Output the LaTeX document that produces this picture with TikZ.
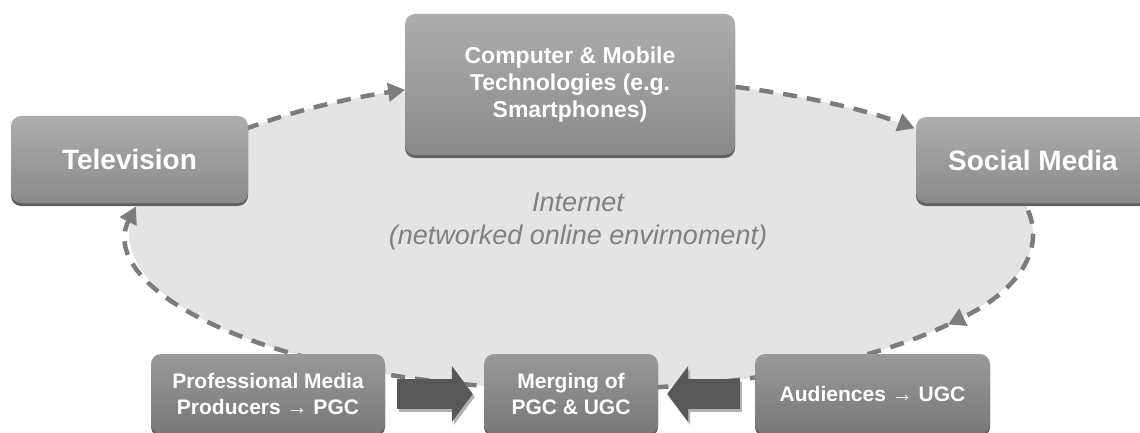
\documentclass[tikz,border=0pt]{standalone}
\usepackage{fontspec}
\setmainfont{Liberation Sans}
\usetikzlibrary{arrows.meta,calc,shadows,shapes.geometric}

\definecolor{loopgray}{RGB}{124,124,124}
\definecolor{cloudgray}{RGB}{228,228,228}
\definecolor{blockgray}{RGB}{88,88,88}

\tikzset{
  mediabox/.style={rectangle, rounded corners=10pt, draw=none, inner sep=0pt,
    top color=black!32, bottom color=black!46, text=white, align=center,
    general shadow={fill=black!62, shadow yshift=-3pt}},
  lowbox/.style={mediabox, top color=black!40, bottom color=black!53,
    font=\bfseries\fontsize{21}{26}\selectfont,
    minimum height=80pt},
  loopline/.style={draw=loopgray, line width=4.5pt, dash pattern=on 14pt off 10pt},
  looparrow/.style={loopline, -{Triangle[length=17pt,width=18pt]}},
  fatarrow/.style={draw=blockgray, line width=30pt, -{Triangle[length=21pt,width=55pt]}},
}

\begin{document}
\begin{tikzpicture}[x=1pt,y=1pt]
  \clip (0,0) rectangle (1140,432);

  % the online environment
  \node[ellipse, fill=cloudgray, minimum width=904pt, minimum height=312pt, inner sep=0pt]
    (net) at (581,198.5) {};
  \node[text=black!50, align=center, font=\itshape\fontsize{27}{33}\selectfont]
    (nettext) at (578,210) {Internet\\(networked online envirnoment)};

  \coordinate (tvout)   at ($(net.center)+(138:452pt and 156pt)$);
  \coordinate (compout) at ($(net.center)+(70:452pt and 156pt)$);
  \coordinate (socout)  at ($(net.center)+(8.5:452pt and 156pt)$);
  \coordinate (lowturn) at ($(net.center)+(-35.7:452pt and 156pt)$);

  \draw[looparrow] (tvout) arc[start angle=138, end angle=112.9, x radius=452pt, y radius=156pt];
  \draw[looparrow] (compout) arc[start angle=70, end angle=42.4, x radius=452pt, y radius=156pt];
  \draw[looparrow] (socout) arc[start angle=8.5, end angle=-35.7, x radius=452pt, y radius=156pt];
  \draw[looparrow] (lowturn) arc[start angle=-35.7, end angle=-190, x radius=452pt, y radius=156pt];

  % media
  \node[mediabox, minimum width=237pt, minimum height=87pt,
    font=\bfseries\fontsize{28}{32}\selectfont] (tv) at (129.5,272.5) {Television};
  \node[mediabox, minimum width=330pt, minimum height=141pt,
    font=\bfseries\fontsize{23}{27}\selectfont] (comp) at (570,347.5)
    {Computer \& Mobile\\Technologies (e.g.\\Smartphones)};
  \node[mediabox, minimum width=234pt, minimum height=86pt,
    font=\bfseries\fontsize{28}{32}\selectfont] (soc) at (1033,272) {Social Media};

  % content
  \node[lowbox, minimum width=234pt] (prof) at (268,38) {Professional Media\\Producers → PGC};
  \node[lowbox, minimum width=174pt] (merge) at (571,38) {Merging of\\PGC \& UGC};
  \node[lowbox, minimum width=235pt] (aud) at (872.5,38) {Audiences → UGC};

  \draw[fatarrow, draw=black!30, transform canvas={xshift=2pt,yshift=-3pt},
    shorten <=12pt, shorten >=11pt] (prof) -- (merge);
  \draw[fatarrow, shorten <=12pt, shorten >=11pt] (prof) -- (merge);
  \draw[fatarrow, draw=black!30, transform canvas={xshift=2pt,yshift=-3pt},
    shorten <=15pt, shorten >=9pt] (aud) -- (merge);
  \draw[fatarrow, shorten <=15pt, shorten >=9pt] (aud) -- (merge);
\end{tikzpicture}
\end{document}
